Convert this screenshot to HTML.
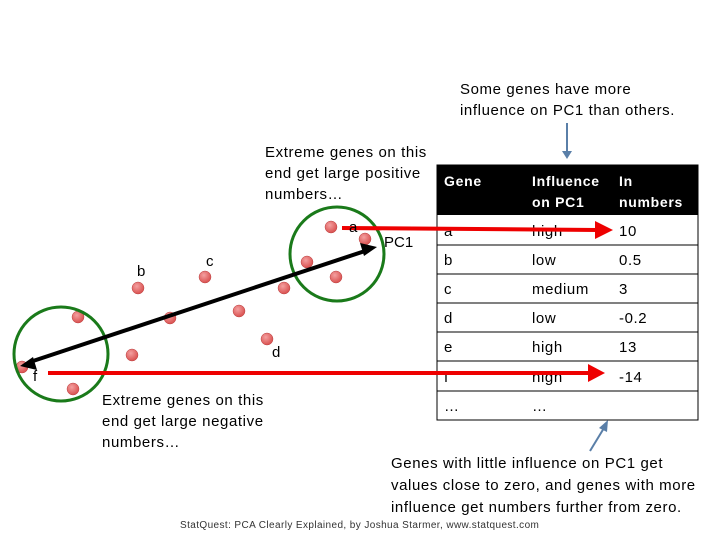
<!DOCTYPE html>
<html><head><meta charset="utf-8"><style>
body{margin:0;background:#fff;}
svg{display:block;font-family:"Liberation Sans",sans-serif;}
</style></head><body>
<svg width="720" height="540" viewBox="0 0 720 540" xmlns="http://www.w3.org/2000/svg">
<defs>
<radialGradient id="g" cx="40%" cy="35%" r="65%"><stop offset="0" stop-color="#f4a0a0"/><stop offset="1" stop-color="#d9504f"/></radialGradient>
</defs>
<rect x="437" y="165" width="261" height="50" fill="#000"/>
<rect x="437" y="165" width="261" height="255" fill="none" stroke="#000" stroke-width="1"/>
<g stroke="#000" stroke-width="1">
<line x1="437" y1="245" x2="698" y2="245"/><line x1="437" y1="274" x2="698" y2="274"/>
<line x1="437" y1="303" x2="698" y2="303"/><line x1="437" y1="332" x2="698" y2="332"/>
<line x1="437" y1="361" x2="698" y2="361"/><line x1="437" y1="391" x2="698" y2="391"/>
</g>
<g font-size="14" fill="#fff" font-weight="bold" letter-spacing="0.7">
<text x="444" y="186">Gene</text><text x="532" y="186">Influence</text><text x="532" y="207">on PC1</text>
<text x="619" y="186">In</text><text x="619" y="207">numbers</text>
</g>
<g font-size="15" fill="#000" letter-spacing="0.6">
<text x="444" y="236">a</text><text x="532" y="236">high</text><text x="619" y="236">10</text>
<text x="444" y="265">b</text><text x="532" y="265">low</text><text x="619" y="265">0.5</text>
<text x="444" y="294">c</text><text x="532" y="294">medium</text><text x="619" y="294">3</text>
<text x="444" y="323">d</text><text x="532" y="323">low</text><text x="619" y="323">-0.2</text>
<text x="444" y="352">e</text><text x="532" y="352">high</text><text x="619" y="352">13</text>
<text x="444" y="382">f</text><text x="532" y="382">high</text><text x="619" y="382">-14</text>
<text x="444" y="411">…</text><text x="532" y="411">…</text>
</g>
<g fill="url(#g)" stroke="#b44" stroke-width="0.5">
<circle cx="331" cy="227" r="6"/><circle cx="365" cy="239" r="6"/><circle cx="307" cy="262" r="6"/>
<circle cx="336" cy="277" r="6"/><circle cx="284" cy="288" r="6"/><circle cx="205" cy="277" r="6"/>
<circle cx="138" cy="288" r="6"/><circle cx="239" cy="311" r="6"/><circle cx="170" cy="318" r="6"/>
<circle cx="267" cy="339" r="6"/><circle cx="78" cy="317" r="6"/><circle cx="132" cy="355" r="6"/>
<circle cx="22" cy="367" r="6"/><circle cx="73" cy="389" r="6"/>
</g>
<circle cx="337" cy="254" r="47" fill="none" stroke="#1a7a1a" stroke-width="3"/>
<circle cx="61" cy="354" r="47" fill="none" stroke="#1a7a1a" stroke-width="3"/>
<line x1="30" y1="362" x2="368" y2="250" stroke="#000" stroke-width="4"/>
<polygon points="377,247 360,243 364,256" fill="#000"/>
<polygon points="20,366 37,370 33,357" fill="#000"/>
<line x1="342" y1="228" x2="598" y2="230" stroke="#e00" stroke-width="4"/>
<polygon points="613,230 595,221 595,239" fill="#e00"/>
<line x1="48" y1="373" x2="596" y2="373" stroke="#e00" stroke-width="4"/>
<polygon points="605,373 588,364 588,382" fill="#e00"/>
<g font-size="15" fill="#000">
<text x="349" y="232">a</text><text x="384" y="247">PC1</text><text x="137" y="276">b</text>
<text x="206" y="266">c</text><text x="272" y="357">d</text><text x="33" y="381">f</text>
</g>
<line x1="567" y1="123" x2="567" y2="152" stroke="#5a7fa8" stroke-width="2"/>
<polygon points="562,151 572,151 567,159" fill="#5a7fa8"/>
<line x1="590" y1="451" x2="604" y2="428" stroke="#5a7fa8" stroke-width="2"/>
<polygon points="608,420 599,428 607,432" fill="#5a7fa8"/>
<g font-size="15" fill="#000" letter-spacing="0.6">
<text x="460" y="94">Some genes have more</text>
<text x="460" y="115">influence on PC1 than others.</text>
<text x="265" y="157">Extreme genes on this</text>
<text x="265" y="178">end get large positive</text>
<text x="265" y="199">numbers…</text>
<text x="102" y="405">Extreme genes on this</text>
<text x="102" y="426">end get large negative</text>
<text x="102" y="447">numbers…</text>
<text x="391" y="468">Genes with little influence on PC1 get</text>
<text x="391" y="490">values close to zero, and genes with more</text>
<text x="391" y="512">influence get numbers further from zero.</text>
</g>
<text x="180" y="528" font-size="10" fill="#333" letter-spacing="0.4">StatQuest: PCA Clearly Explained, by Joshua Starmer, www.statquest.com</text>
</svg>
</body></html>
